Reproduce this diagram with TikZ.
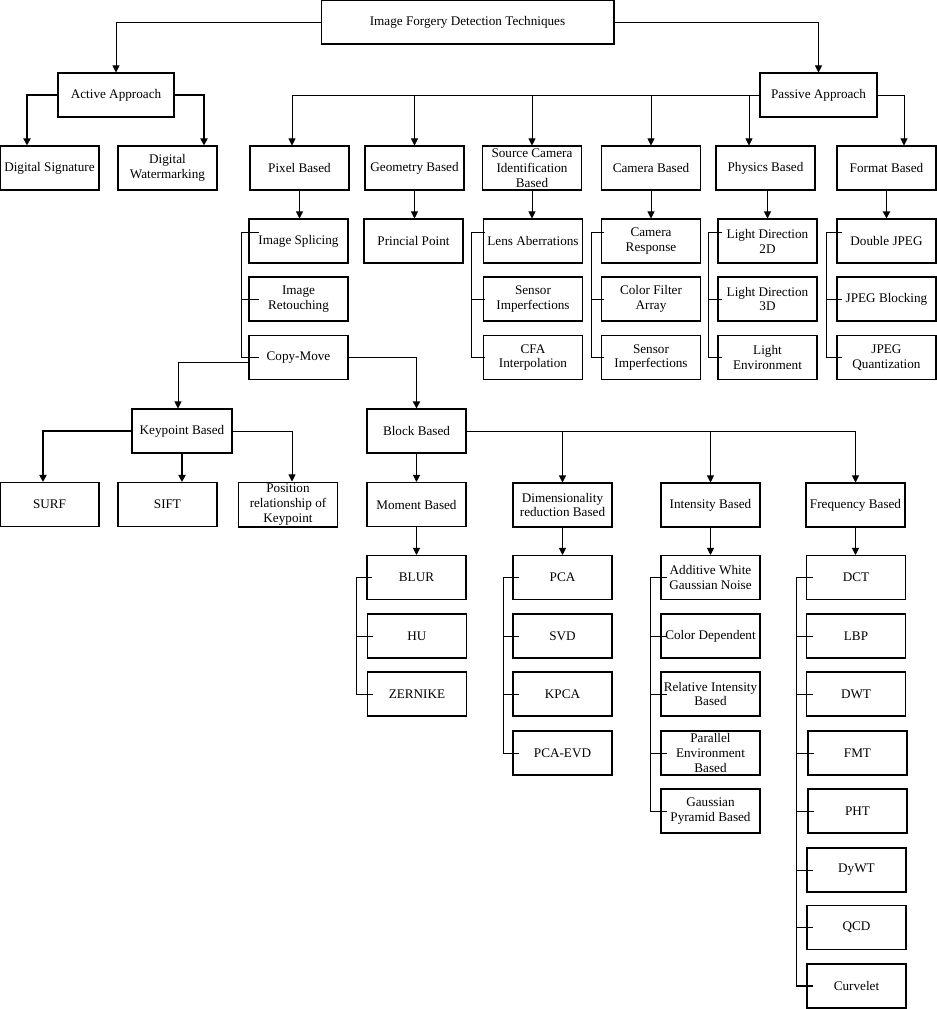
\documentclass[tikz,border=0pt]{standalone}
\usepackage{fontspec}
\setmainfont{Liberation Serif}
\usetikzlibrary{arrows.meta}

\begin{document}
\begin{tikzpicture}[x=0.02cm, y=-0.02cm, line width=0.5pt,
    >={Triangle[width=4pt,length=4pt]},
    box/.style={draw, line width=0.6pt, minimum width=1.98cm, minimum height=0.88cm,
        inner sep=1pt, align=center, font=\fontsize{7.5}{8.5}\selectfont},
    thickline/.style={line width=1pt}]

    \useasboundingbox (0,0) rectangle (937,1009);

    % top levels
    \node[box, minimum width=5.86cm] (root) at (467.5,22) {Image Forgery Detection Techniques};
    \node[box, minimum width=2.32cm] (active) at (116,95) {Active Approach};
    \node[box, minimum width=2.34cm] (passive) at (818.5,95) {Passive Approach};

    % second row
    \node[box] (digsig) at (49.5,168) {Digital Signature};
    \node[box] (digwm) at (167.5,168) {Digital\\Watermarking};
    \node[box] (pixel) at (299.5,168) {Pixel Based};
    \node[box] (geom) at (414.5,168) {Geometry Based};
    \node[box] (source) at (532,168) {Source Camera\\Identification\\Based};
    \node[box] (camera) at (651,168) {Camera Based};
    \node[box] (physics) at (765.5,168) {Physics Based};
    \node[box] (format) at (886.5,168) {Format Based};

    % third rows
    \node[box] (splice) at (298.5,241) {Image Splicing};
    \node[box] (retouch) at (298.5,299) {Image\\Retouching};
    \node[box] (copymove) at (298.5,357.5) {Copy-Move};
    \node[box] (principal) at (413.5,241) {Princial Point};
    \node[box] (lens) at (533,241) {Lens Aberrations};
    \node[box] (sensora) at (533,299) {Sensor\\Imperfections};
    \node[box] (cfa) at (533,357.5) {CFA\\Interpolation};
    \node[box] (camresp) at (651,241) {Camera\\Response};
    \node[box] (cfarray) at (651,299) {Color Filter\\Array};
    \node[box] (sensorb) at (651,357.5) {Sensor\\Imperfections};
    \node[box] (light2d) at (767.5,241) {Light Direction\\2D};
    \node[box] (light3d) at (767.5,299) {Light Direction\\3D};
    \node[box] (lightenv) at (767.5,357.5) {Light\\Environment};
    \node[box] (dbljpeg) at (886.5,241) {Double JPEG};
    \node[box] (jpegblock) at (886.5,299) {JPEG Blocking};
    \node[box] (jpegquant) at (886.5,357.5) {JPEG\\Quantization};

    % copy-move branch
    \node[box, minimum width=2cm] (keypoint) at (182,431) {Keypoint Based};
    \node[box] (block) at (416.5,431) {Block Based};
    \node[box] (surf) at (49.5,504.5) {SURF};
    \node[box] (sift) at (167.5,504.5) {SIFT};
    \node[box] (position) at (288,504.5) {Position\\relationship of\\Keypoint};
    \node[box] (moment) at (416.5,504.5) {Moment Based};
    \node[box] (dimred) at (562.5,505) {Dimensionality\\reduction Based};
    \node[box] (intensity) at (710.5,505) {Intensity Based};
    \node[box] (frequency) at (855.5,505) {Frequency Based};

    % block based leaves
    \node[box] (blur) at (416.5,577.5) {BLUR};
    \node[box] (hu) at (417,636) {HU};
    \node[box] (zernike) at (417,694) {ZERNIKE};
    \node[box] (pca) at (562.5,577.5) {PCA};
    \node[box] (svd) at (562.5,636) {SVD};
    \node[box] (kpca) at (562.5,694) {KPCA};
    \node[box] (pcaevd) at (562.5,753) {PCA-EVD};
    \node[box] (awgn) at (710.5,577.5) {Additive White\\Gaussian Noise};
    \node[box] (colordep) at (710.5,636) {Color Dependent};
    \node[box] (relint) at (710.5,694) {Relative Intensity\\Based};
    \node[box] (parallel) at (710.5,753) {Parallel\\Environment\\Based};
    \node[box] (gaussian) at (710.5,811) {Gaussian\\Pyramid Based};
    \node[box] (dct) at (856,577.5) {DCT};
    \node[box] (lbp) at (856,636) {LBP};
    \node[box] (dwt) at (856,694) {DWT};
    \node[box] (fmt) at (857.5,753) {FMT};
    \node[box] (pht) at (857.5,811) {PHT};
    \node[box] (dywt) at (856.5,870) {DyWT};
    \node[box] (qcd) at (856.5,927.5) {QCD};
    \node[box] (curvelet) at (856.5,986) {Curvelet};

    % root and approaches
    \draw[->] (root.west) -| (active.north);
    \draw[->] (root.east) -| (passive.north);
    \draw[->, thickline] (active.west) -| ([xshift=-0.45cm]digsig.north);
    \draw[->, thickline] (active.east) -| ([xshift=0.73cm]digwm.north);
    \draw[->] (passive.west) -| ([xshift=-0.15cm]pixel.north);
    \draw[->] (geom.north |- passive.west) -- (geom.north);
    \draw[->] (source.north |- passive.west) -- (source.north);
    \draw[->] (camera.north |- passive.west) -- (camera.north);
    \draw[->] ([xshift=-0.33cm]physics.north |- passive.west) -- ([xshift=-0.33cm]physics.north);
    \draw[->] (passive.east) -| ([xshift=0.35cm]format.north);

    % second row to third rows
    \draw[->] (pixel.south) -- (pixel.south |- splice.north);
    \draw[->] (geom.south) -- (geom.south |- principal.north);
    \draw[->] (source.south) -- (source.south |- lens.north);
    \draw[->] (camera.south) -- (camresp.north);
    \draw[->] (light2d.north |- physics.south) -- (light2d.north);
    \draw[->, thickline] (format.south) -- (dbljpeg.north);

    % brackets of the third rows
    \draw ([xshift=0.22cm,yshift=0.18cm]splice.west) -| ([xshift=-0.14cm]copymove.west) -- ([xshift=0.22cm]copymove.west);
    \draw ([xshift=-0.14cm]retouch.west) -- ([xshift=0.22cm]retouch.west);
    \draw ([xshift=0.04cm,yshift=0.18cm]lens.west) -| ([xshift=-0.24cm]cfa.west) -- ([xshift=0.04cm]cfa.west);
    \draw ([xshift=-0.24cm]sensora.west) -- ([xshift=0.04cm]sensora.west);
    \draw ([xshift=0.06cm,yshift=0.18cm]camresp.west) -| ([xshift=-0.2cm]sensorb.west) -- ([xshift=0.06cm]sensorb.west);
    \draw ([xshift=-0.2cm]cfarray.west) -- ([xshift=0.06cm]cfarray.west);
    \draw ([xshift=0.1cm,yshift=0.18cm]light2d.west) -| ([xshift=-0.18cm]lightenv.west) -- ([xshift=0.1cm]lightenv.west);
    \draw ([xshift=-0.18cm]light3d.west) -- ([xshift=0.1cm]light3d.west);
    \draw ([xshift=0.12cm,yshift=0.18cm]dbljpeg.west) -| ([xshift=-0.2cm]jpegquant.west) -- ([xshift=0.12cm]jpegquant.west);
    \draw ([xshift=-0.2cm]jpegblock.west) -- ([xshift=0.12cm]jpegblock.west);

    % copy-move and keypoint
    \draw[->] ([yshift=-0.09cm]copymove.west) -| ([xshift=-0.08cm]keypoint.north);
    \draw[->, thickline] (copymove.east) -| (block.north);
    \draw[->, thickline] (keypoint.west) -| ([xshift=-0.13cm]surf.north);
    \draw[->, thickline] (keypoint.south) -- (keypoint.south |- sift.north);
    \draw[->] (keypoint.east) -| ([xshift=0.08cm]position.north);

    % block based
    \draw[->] (block.south) -- (moment.north);
    \draw[->] (block.east) -| (frequency.north);
    \draw[->] (dimred.north |- block.east) -- (dimred.north);
    \draw[->] (intensity.north |- block.east) -- (intensity.north);
    \draw[->] (moment.south) -- (blur.north);
    \draw[->] (dimred.south) -- (pca.north);
    \draw[->] (intensity.south) -- (awgn.north);
    \draw[->] (frequency.south) -- (frequency.south |- dct.north);

    % brackets of the leaves
    \draw ([xshift=0.12cm]blur.west) -| ([xshift=-0.22cm]zernike.west) -- ([xshift=0.12cm]zernike.west);
    \draw ([xshift=-0.22cm]hu.west) -- ([xshift=0.12cm]hu.west);
    \draw ([xshift=0.14cm]pca.west) -| ([xshift=-0.18cm]pcaevd.west) -- ([xshift=0.14cm]pcaevd.west);
    \draw ([xshift=-0.18cm]svd.west) -- ([xshift=0.14cm]svd.west);
    \draw ([xshift=-0.18cm]kpca.west) -- ([xshift=0.14cm]kpca.west);
    \draw ([xshift=0.14cm]awgn.west) -| ([xshift=-0.2cm]gaussian.west) -- ([xshift=0.14cm]gaussian.west);
    \draw ([xshift=-0.2cm]colordep.west) -- ([xshift=0.14cm]colordep.west);
    \draw ([xshift=-0.2cm]relint.west) -- ([xshift=0.14cm]relint.west);
    \draw ([xshift=-0.2cm]parallel.west) -- ([xshift=0.14cm]parallel.west);
    \draw[thickline] ([xshift=0.14cm]dct.west) -| ([xshift=-0.2cm]curvelet.west) -- ([xshift=0.14cm]curvelet.west);
    \draw ([xshift=-0.18cm]lbp.west) -- ([xshift=0.14cm]lbp.west);
    \draw ([xshift=-0.18cm]dwt.west) -- ([xshift=0.14cm]dwt.west);
    \draw ([xshift=-0.21cm]fmt.west) -- ([xshift=0.14cm]fmt.west);
    \draw ([xshift=-0.21cm]pht.west) -- ([xshift=0.14cm]pht.west);
    \draw ([xshift=-0.2cm]dywt.west) -- ([xshift=0.14cm]dywt.west);
    \draw ([xshift=-0.2cm]qcd.west) -- ([xshift=0.14cm]qcd.west);
\end{tikzpicture}
\end{document}
